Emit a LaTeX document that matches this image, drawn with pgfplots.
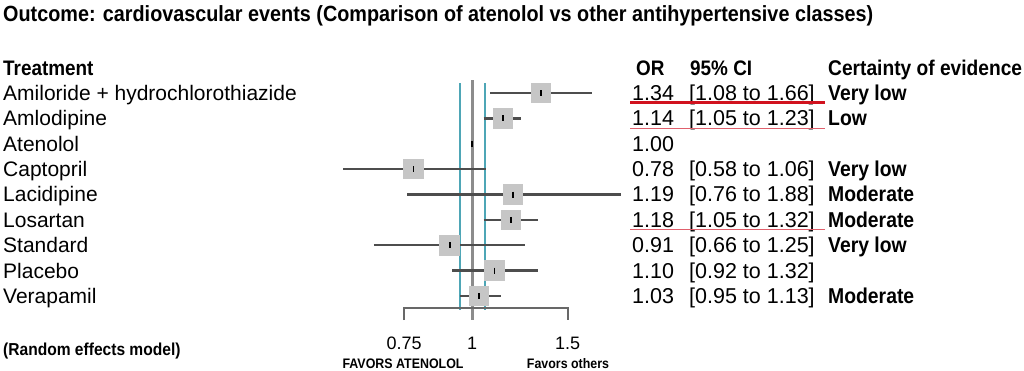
\documentclass[border=0pt]{standalone}
\usepackage{pgfplots}
\usepackage{pgfplotstable}
\pgfplotsset{compat=1.18}
\usepackage{fontspec}
\setmainfont{Liberation Sans}[BoldFeatures={FakeStretch=0.9}]
\definecolor{cigray}{HTML}{4D4D4D}
\definecolor{sqgray}{HTML}{C6C6C6}
\definecolor{vgray}{HTML}{8C8C8C}
\definecolor{tealv}{HTML}{4EA6B6}
\definecolor{redl}{HTML}{D1121E}
\definecolor{redthin}{HTML}{E0606C}

\pgfplotstableread{
row or   lo   hi
1   1.34 1.08 1.66
2   1.14 1.05 1.23
3   1.00 1.00 1.00
4   0.78 0.58 1.06
5   1.19 0.76 1.88
6   1.18 1.05 1.32
7   0.91 0.66 1.25
8   1.10 0.92 1.32
9   1.03 0.95 1.13
}\forestdata

\pgfplotstableread{
row or
1   1.34
2   1.14
4   0.78
5   1.19
6   1.18
7   0.91
8   1.10
9   1.03
}\squaredata

\newcommand\fs[1]{\fontsize{#1}{#1}\selectfont}

\begin{document}
\begin{tikzpicture}
\useasboundingbox (0,0) rectangle (1024pt,371pt);
\begin{scope}[x=1pt,y=-1pt,shift={(0pt,371pt)}]
% title
\node[anchor=base west,inner sep=0] at (3,21.5) {\fs{22}\bfseries Outcome: cardiovascular events (Comparison of atenolol vs other antihypertensive classes)};

% headers
\node[anchor=base west,inner sep=0] at (3,75.5) {\fs{21}\bfseries Treatment};
\node[anchor=base west,inner sep=0] at (636,75.5) {\fs{21}\bfseries OR};
\node[anchor=base west,inner sep=0] at (690,75.5) {\fs{21}\bfseries 95\% CI};
\node[anchor=base west,inner sep=0] at (828,75.5) {\fs{21.3}\bfseries Certainty of evidence};

% rows
\foreach \name/\orv/\ci/\cert [count=\i from 0] in {
  Amiloride + hydrochlorothiazide/1.34/{[1.08 to 1.66]}/Very low,
  Amlodipine/1.14/{[1.05 to 1.23]}/Low,
  Atenolol/1.00/{}/{},
  Captopril/0.78/{[0.58 to 1.06]}/Very low,
  Lacidipine/1.19/{[0.76 to 1.88]}/Moderate,
  Losartan/1.18/{[1.05 to 1.32]}/Moderate,
  Standard/0.91/{[0.66 to 1.25]}/Very low,
  Placebo/1.10/{[0.92 to 1.32]}/{},
  Verapamil/1.03/{[0.95 to 1.13]}/Moderate}{
  \pgfmathsetmacro\yb{100.5+25.375*\i}
  \node[anchor=base west,inner sep=0] at (3,\yb) {\fs{21}\name};
  \node[anchor=base west,inner sep=0] at (632,\yb) {\fs{21.5}\orv};
  \node[anchor=base west,inner sep=0] at (689,\yb) {\fs{21.5}\ci};
  \node[anchor=base west,inner sep=0] at (828,\yb) {\fs{21.5}\bfseries\cert};
}

% red underlines
\draw[redl,line width=3pt] (630,102.5) -- (825,102.5);
\draw[redthin,line width=1.1pt] (630,128.5) -- (825,128.5);
\draw[redthin,line width=1.1pt] (630,229.5) -- (825,229.5);

% bottom texts
\node[anchor=base west,inner sep=0] at (3,356) {\fs{17.3}\bfseries (Random effects model)};
\node[anchor=base,inner sep=0] at (403,368.5) {\fs{13.8}\bfseries FAVORS ATENOLOL};
\node[anchor=base,inner sep=0] at (568,368.5) {\fs{13.8}\bfseries Favors others};
\end{scope}

\begin{axis}[
  at={(308.4pt,49.6pt)}, anchor=south west,
  xmode=log, xmin=0.5, xmax=2, ymin=0, ymax=10, y dir=reverse,
  width=327.2pt, height=253.75pt, scale only axis,
  hide axis, clip=false,
]
% reference lines
\addplot[vgray, line width=3pt] coordinates {(1,0.49) (1,9.95)};
\addplot[tealv, line width=1.8pt] coordinates {(0.95,0.61) (0.95,9.55)};
\addplot[tealv, line width=1.8pt] coordinates {(1.057,0.61) (1.057,9.55)};
% scale bracket
\addplot[cigray!85, line width=2pt] coordinates {(0.75,9.95) (0.75,9.47) (1.5,9.47) (1.5,9.95)};
% tick labels
\node[anchor=base,inner sep=0] at (axis cs:0.75,11.1) {\fs{18}0.75};
\node[anchor=base,inner sep=0] at (axis cs:1,11.1) {\fs{18}1};
\node[anchor=base,inner sep=0] at (axis cs:1.5,11.1) {\fs{18}1.5};
% squares
\addplot[sqgray, only marks, mark=square*, mark size=9.8pt, mark options={draw=sqgray, fill=sqgray, line width=0pt}] table[x=or,y=row] {\squaredata};
% confidence intervals
\pgfplotsinvokeforeach{0,1,3,4,5,6,7,8}{
  \pgfplotstablegetelem{#1}{lo}\of\forestdata \let\cilo\pgfplotsretval
  \pgfplotstablegetelem{#1}{hi}\of\forestdata \let\cihi\pgfplotsretval
  \pgfplotstablegetelem{#1}{row}\of\forestdata \let\cirow\pgfplotsretval
  \edef\temp{\noexpand\addplot[cigray, line width=2.4pt] coordinates {(\cilo,\cirow) (\cihi,\cirow)};}
  \temp
}
% point estimates
\addplot[black, only marks, mark=|, mark size=3pt, mark options={line width=1.6pt, black}] table[x=or,y=row] {\forestdata};
\end{axis}
\end{tikzpicture}
\end{document}
